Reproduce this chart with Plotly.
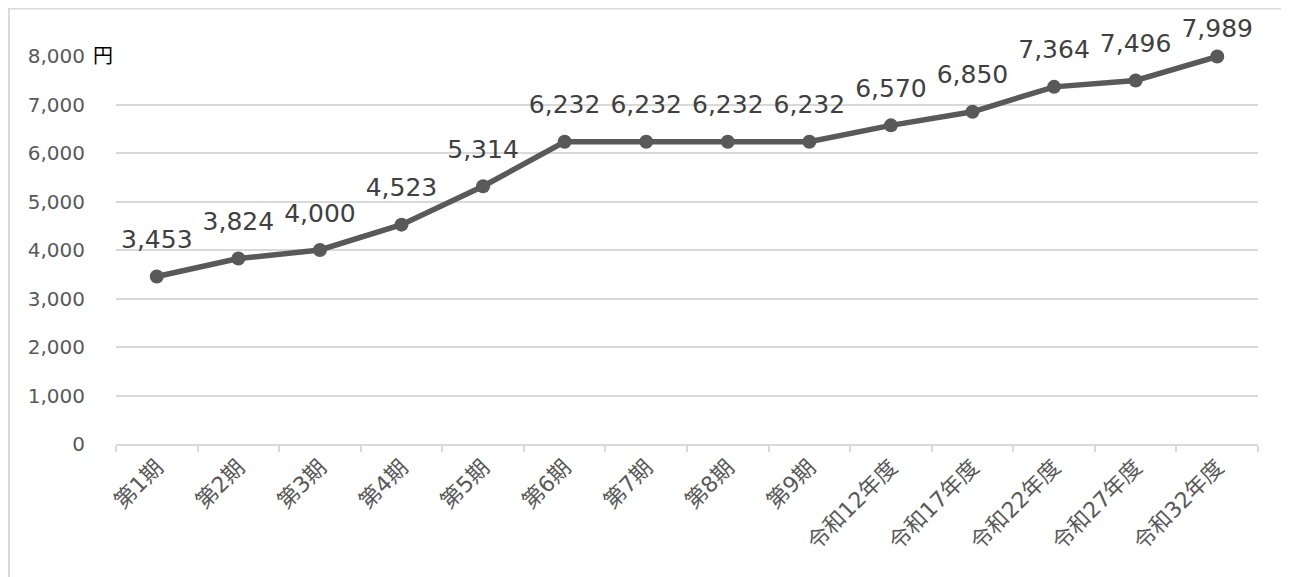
import plotly.graph_objects as go

categories = ["第1期", "第2期", "第3期", "第4期", "第5期", "第6期", "第7期",
              "第8期", "第9期", "令和12年度", "令和17年度", "令和22年度",
              "令和27年度", "令和32年度"]
values = [3453, 3824, 4000, 4523, 5314, 6232, 6232, 6232, 6232,
          6570, 6850, 7364, 7496, 7989]
y_ticks = [0, 1000, 2000, 3000, 4000, 5000, 6000, 7000, 8000]
unit_label = "円"

font_family = "DejaVu Sans, Noto Sans CJK JP, sans-serif"

fig = go.Figure()
fig.add_trace(go.Scatter(
    x=categories, y=values,
    mode="lines+markers",
    line=dict(color="#595959", width=5.5),
    marker=dict(color="#595959", size=14, line=dict(width=0)),
    cliponaxis=False,
    showlegend=False,
    hoverinfo="skip",
))
# data labels: invisible markers set the gap between label and point
# (the last label sits closer, kept inside the chart area as in the source)
label_gap = [34] * (len(values) - 1) + [20]
fig.add_trace(go.Scatter(
    x=categories, y=values,
    mode="markers+text",
    marker=dict(color="rgba(0,0,0,0)", size=label_gap,
                line=dict(width=0, color="rgba(0,0,0,0)")),
    text=[f"{v:,}" for v in values],
    textposition="top center",
    textfont=dict(size=25, color="#404040", family=font_family),
    cliponaxis=False,
    showlegend=False,
    hoverinfo="skip",
))

fig.update_layout(
    width=1281, height=569,
    paper_bgcolor="white", plot_bgcolor="white",
    margin=dict(l=108, r=31, t=48, b=133),
    font=dict(family=font_family),
    xaxis=dict(
        type="category",
        tickson="boundaries",
        ticks="outside", ticklen=6, tickcolor="#d9d9d9", tickwidth=1.5,
        showline=True, linecolor="#d9d9d9", linewidth=1.5,
        showgrid=False,
        tickangle=-45,
        tickfont=dict(size=22, color="#595959", family=font_family),
        range=[-0.5, len(categories) - 0.5],
    ),
    yaxis=dict(
        range=[0, 8000],
        tickvals=y_ticks,
        tickformat=",d",
        showgrid=True, gridcolor="#d9d9d9", gridwidth=1.5,
        zeroline=False,
        ticks="",
        ticklabelstandoff=30,
        tickfont=dict(size=20, color="#595959", family=font_family),
    ),
    shapes=[dict(
        type="rect", xref="paper", yref="paper",
        x0=-0.0937, x1=1.2, y0=-0.6, y1=1.1225,
        line=dict(color="#d9d9d9", width=2), fillcolor="rgba(0,0,0,0)",
        layer="below",
    )],
    annotations=[dict(
        text=unit_label, xref="paper", yref="y",
        x=-0.001, y=8000, xanchor="right", yanchor="middle",
        showarrow=False, font=dict(size=20, color="black", family=font_family),
    )],
)

fig.write_html("out.html")
